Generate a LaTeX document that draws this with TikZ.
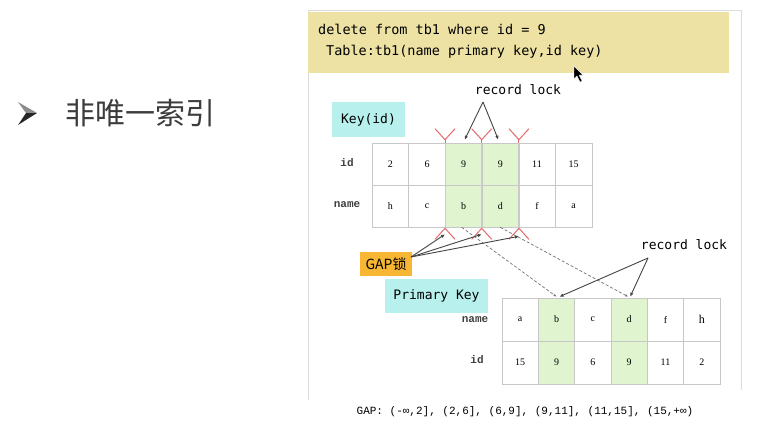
\documentclass[tikz,border=0pt]{standalone}
\usepackage{fontspec}
\setmainfont{Liberation Serif}
\newfontfamily\codefont{DejaVu Sans Mono}
\newfontfamily\cjkfont{Noto Sans CJK SC}
\newfontfamily\labfont{Liberation Mono}
\usetikzlibrary{arrows.meta}
\definecolor{frameg}{HTML}{DCDCDC}
\definecolor{codey}{HTML}{EDE2A4}
\definecolor{keycyan}{HTML}{B8F0EE}
\definecolor{gaporange}{HTML}{F7B634}
\definecolor{cellgreen}{HTML}{E0F5CF}
\definecolor{markred}{HTML}{E46A6A}
\definecolor{linkgray}{HTML}{444444}
\definecolor{titlegray}{HTML}{3C3C3C}
\tikzset{
  cellbox/.style={draw=black!22, line width=0.6pt, minimum width=36.67pt, minimum height=42pt, inner sep=0pt, font=\fontsize{10}{11}\selectfont},
  cellboxb/.style={cellbox, minimum width=36.33pt, minimum height=43pt},
  hl/.style={fill=cellgreen},
  rowlab/.style={font=\labfont\bfseries\fontsize{11}{12}\selectfont, text=black!75, inner sep=0pt},
  codetxt/.style={font=\codefont\fontsize{13.5}{15}\selectfont, inner sep=0pt, anchor=west},
  tagbox/.style={fill=keycyan, inner sep=0pt, font=\codefont\fontsize{13}{15}\selectfont},
  link/.style={draw=linkgray, line width=0.9pt, -{Latex[length=4pt,width=3.5pt]}},
  dlink/.style={draw=black!55, line width=0.7pt, dash pattern=on 3pt off 2pt, -{Latex[length=3pt,width=2.5pt]}},
  redmark/.style={draw=markred, line width=1pt},
}
\begin{document}
\begin{tikzpicture}[x=1pt,y=-1pt]
\useasboundingbox (0,0) rectangle (763,440);
\fill[white] (0,0) rectangle (763,440);

% title bullet and text
\fill[black!45] (18,102) -- (37,113) -- (26,113) -- cycle;
\fill[black!85] (26,113) -- (37,113) -- (18,125) -- cycle;
\node[font=\cjkfont\fontsize{30}{32}\selectfont, text=titlegray, inner sep=0pt] (title) at (140,113) {非唯一索引};

% frame
\draw[frameg, line width=1pt] (308,400) -- (308,10) -- (741,10) -- (741,390);
\fill[codey] (308,12) rectangle (729,73);
\node[codetxt] (code1) at (318,29) {delete from tb1 where id = 9};
\node[codetxt] (code2) at (326,52) {Table:tb1(name primary key,id key)};

% cursor
\filldraw[fill=black, draw=white, line width=0.4pt] (574,66) -- (574,79) -- (577,76) -- (580,82) -- (582,81) -- (579,75) -- (583,75) -- cycle;

% Key(id) label
\node[tagbox, minimum width=73pt, minimum height=35pt] (keyid) at (368.5,119.5) {Key(id)};

% top table
\node[rowlab] (lid) at (347,163) {id};
\node[rowlab] (lname) at (347,205) {name};
\node[cellbox] (t11) at (390.33,164) {2};
\node[cellbox] (t12) at (427.00,164) {6};
\node[cellbox,hl] (t13) at (463.67,164) {9};
\node[cellbox,hl] (t14) at (500.33,164) {9};
\node[cellbox] (t15) at (537.00,164) {11};
\node[cellbox] (t16) at (573.67,164) {15};
\node[cellbox] (t21) at (390.33,206) {h};
\node[cellbox] (t22) at (427.00,206) {c};
\node[cellbox,hl] (t23) at (463.67,206) {b};
\node[cellbox,hl] (t24) at (500.33,206) {d};
\node[cellbox] (t25) at (537.00,206) {f};
\node[cellbox] (t26) at (573.67,206) {a};
\draw[markred!45, line width=0.6pt] (t13.north west) -- (t23.south west);
\draw[markred!45, line width=0.6pt] (t14.north west) -- (t24.south west);
\draw[markred!45, line width=0.6pt] (t14.north east) -- (t24.south east);

% red marks on top edge
\foreach \c in {t13.north west, t14.north west, t14.north east}{
  \draw[redmark] ([yshift=3pt]\c) -- ++(-10,-11);
  \draw[redmark] ([yshift=3pt]\c) -- ++(10,-11);
  \draw[redmark] ([yshift=3pt]\c) -- (\c);
}
% red marks on bottom edge
\foreach \c in {t23.south west, t24.south west, t24.south east}{
  \draw[redmark] ([yshift=-1pt]\c) -- ++(-10,11);
  \draw[redmark] ([yshift=-1pt]\c) -- ++(10,11);
}

% record lock (top)
\node[font=\codefont\fontsize{13}{15}\selectfont, inner sep=0pt] (rl1) at (518,90) {record lock};
\coordinate (ap1) at (483,102);
\draw[link] (ap1) -- ([xshift=1pt,yshift=3pt]t13.north);
\draw[link] (ap1) -- ([xshift=-2pt,yshift=3pt]t14.north);

% GAP lock
\node[fill=gaporange, inner sep=0pt, minimum width=52pt, minimum height=24pt, font=\cjkfont\fontsize{14}{16}\selectfont] (gap) at (386,264) {GAP锁};
\coordinate (gs) at (411,257);
\draw[link] (gs) -- ([yshift=-7pt]t23.south west);
\draw[link] (gs) -- ([yshift=-7pt]t24.south west);
\draw[link] (gs) -- ([yshift=-9pt]t24.south east);

% Primary Key label
\node[tagbox, minimum width=103pt, minimum height=34pt] (pk) at (436.5,296) {Primary Key};

% bottom table
\node[rowlab] (bname) at (475,320) {name};
\node[rowlab] (bid) at (477,360) {id};
\node[cellboxb] (b11) at (520.17,319.5) {a};
\node[cellboxb,hl] (b12) at (556.50,319.5) {b};
\node[cellboxb] (b13) at (592.83,319.5) {c};
\node[cellboxb,hl] (b14) at (629.17,319.5) {d};
\node[cellboxb] (b15) at (665.50,319.5) {f};
\node[cellboxb] (b16) at (701.83,319.5) {\fontsize{12}{13}\selectfont h};
\node[cellboxb] (b21) at (520.17,362.5) {15};
\node[cellboxb,hl] (b22) at (556.50,362.5) {9};
\node[cellboxb] (b23) at (592.83,362.5) {6};
\node[cellboxb,hl] (b24) at (629.17,362.5) {9};
\node[cellboxb] (b25) at (665.50,362.5) {11};
\node[cellboxb] (b26) at (701.83,362.5) {2};

% dashed links
\draw[dlink] ([xshift=-2pt]t23.south) -- ([yshift=1pt]b12.north);
\draw[dlink] (t24.south) -- ([xshift=-1pt,yshift=1pt]b14.north);

% record lock (bottom)
\node[font=\codefont\fontsize{13}{15}\selectfont, inner sep=0pt] (rl2) at (684,245) {record lock};
\coordinate (ap2) at (648,258);
\draw[link] (ap2) -- ([xshift=3pt,yshift=1pt]b12.north);
\draw[link] (ap2) -- ([xshift=1pt,yshift=1pt]b14.north);

% gap list
\node[font=\labfont\fontsize{11}{12}\selectfont, inner sep=0pt] (gaplist) at (525,412) {GAP: (-∞,2], (2,6], (6,9], (9,11], (11,15], (15,+∞)};
\end{tikzpicture}
\end{document}
